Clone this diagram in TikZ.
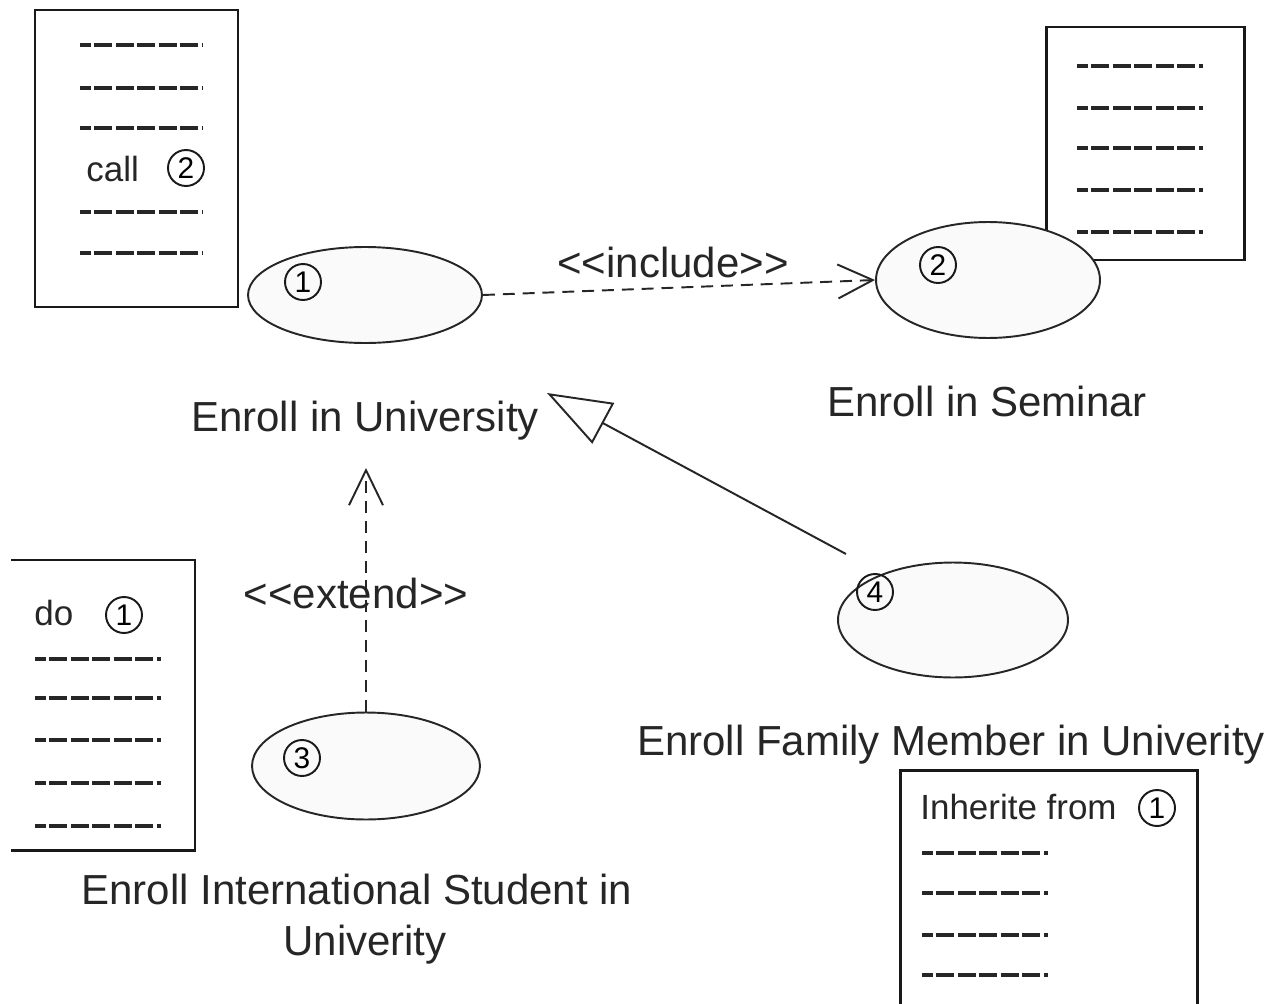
\documentclass[tikz,border=0pt]{standalone}
\usepackage{fontspec}
\setmainfont{Liberation Sans}
\usetikzlibrary{shapes.geometric,arrows.meta}
\begin{document}
\begin{tikzpicture}[x=0.02cm,y=-0.02cm,
  usecase/.style={ellipse,draw=black!85,line width=1.1pt,fill=black!2,inner sep=0pt},
  lbl/.style={font=\fontsize{23.9}{29.6}\selectfont,anchor=base,inner sep=0pt,text=black!85},
  boxtxt/.style={font=\fontsize{19.9}{24}\selectfont,anchor=base west,inner sep=0pt,text=black!85},
  numc/.style={circle,draw=black!90,line width=1.1pt,minimum size=0.72cm,inner sep=0pt,font=\fontsize{17}{17}\selectfont},
  notebox/.style={draw=black!90,line width=1.7pt},
  dashln/.style={line width=2.1pt,draw=black!85,dash pattern=on 10.2pt off 2pt,dash phase=4pt},
  dep/.style={line width=1.1pt,draw=black!85,dash pattern=on 6.8pt off 4.5pt},
  barb/.style={-{Straight Barb[length=0.7cm,width=0.68cm,line width=1.1pt]}},
  gen/.style={line width=1.1pt,draw=black!85,-{Triangle[open,length=1.28cm,width=0.92cm,line width=1.1pt]}}]
\useasboundingbox[fill=white] (0,0) rectangle (1275,1004);

% top-left note
\draw[notebox] (35,10) rectangle (238,307);
\foreach \y in {45,88,128,212,253} \draw[dashln] (80,\y) -- (203,\y);
\node[boxtxt] (call) at (86,181) {call};
\node[numc] (c2a) at (186,168) {2};

% top-right note
\draw[notebox] (1046,27) rectangle (1244,260);
\foreach \y in {66,108,148,190,232} \draw[dashln] (1077,\y) -- (1203,\y);

% bottom-left note
\draw[notebox] (11,560) -- (195,560) -- (195,850) -- (11,850);
\node[boxtxt] (do) at (34,625) {do};
\node[numc] (c1b) at (124,615) {1};
\foreach \y in {659,698,740,783,826} \draw[dashln] (35,\y) -- (161,\y);

% bottom-right note
\draw[notebox] (900,1012) -- (900,770) -- (1197,770) -- (1197,1012);
\node[boxtxt] (inh) at (920,819) {Inherite from};
\node[numc] (c1c) at (1157,808) {1};
\foreach \y in {853,893,935,975} \draw[dashln] (922,\y) -- (1048,\y);

% use cases
\node[usecase,minimum width=4.68cm,minimum height=1.92cm] (e1) at (365,295) {};
\node[numc] (n1) at (303,282) {1};
\node[lbl] (l1) at (365,431) {Enroll in University};

\node[usecase,minimum width=4.48cm,minimum height=2.32cm] (e2) at (988,280) {};
\node[numc] (n2) at (938,265) {2};
\node[lbl] (l2) at (987,416) {Enroll in Seminar};

\node[usecase,minimum width=4.56cm,minimum height=2.14cm] (e3) at (366,766) {};
\node[numc] (n3) at (302,758) {3};
\node[lbl] (l3) at (357,904) {Enroll International Student in};
\node[lbl] (l3b) at (365,955) {Univerity};

\node[usecase,minimum width=4.6cm,minimum height=2.3cm] (e4) at (953,620) {};
\node[numc] (n4) at (875,592) {4};
\node[lbl] (l4) at (951,755) {Enroll Family Member in Univerity};

% include
\draw[dep,barb] (e1.east) -- (e2.west);
\node[lbl] (inc) at (673,277) {<\kern0pt<include>\kern0pt>};

% extend
\coordinate (xtip) at (366,468);
\draw[dep,barb] (e3.north) -- (xtip);
\node[lbl] (ext) at (356,608) {<\kern0pt<extend>\kern0pt>};

% generalization
\coordinate (gs) at (846,554);
\coordinate (gt) at (547,393);
\draw[gen] (gs) -- (gt);
\end{tikzpicture}
\end{document}
